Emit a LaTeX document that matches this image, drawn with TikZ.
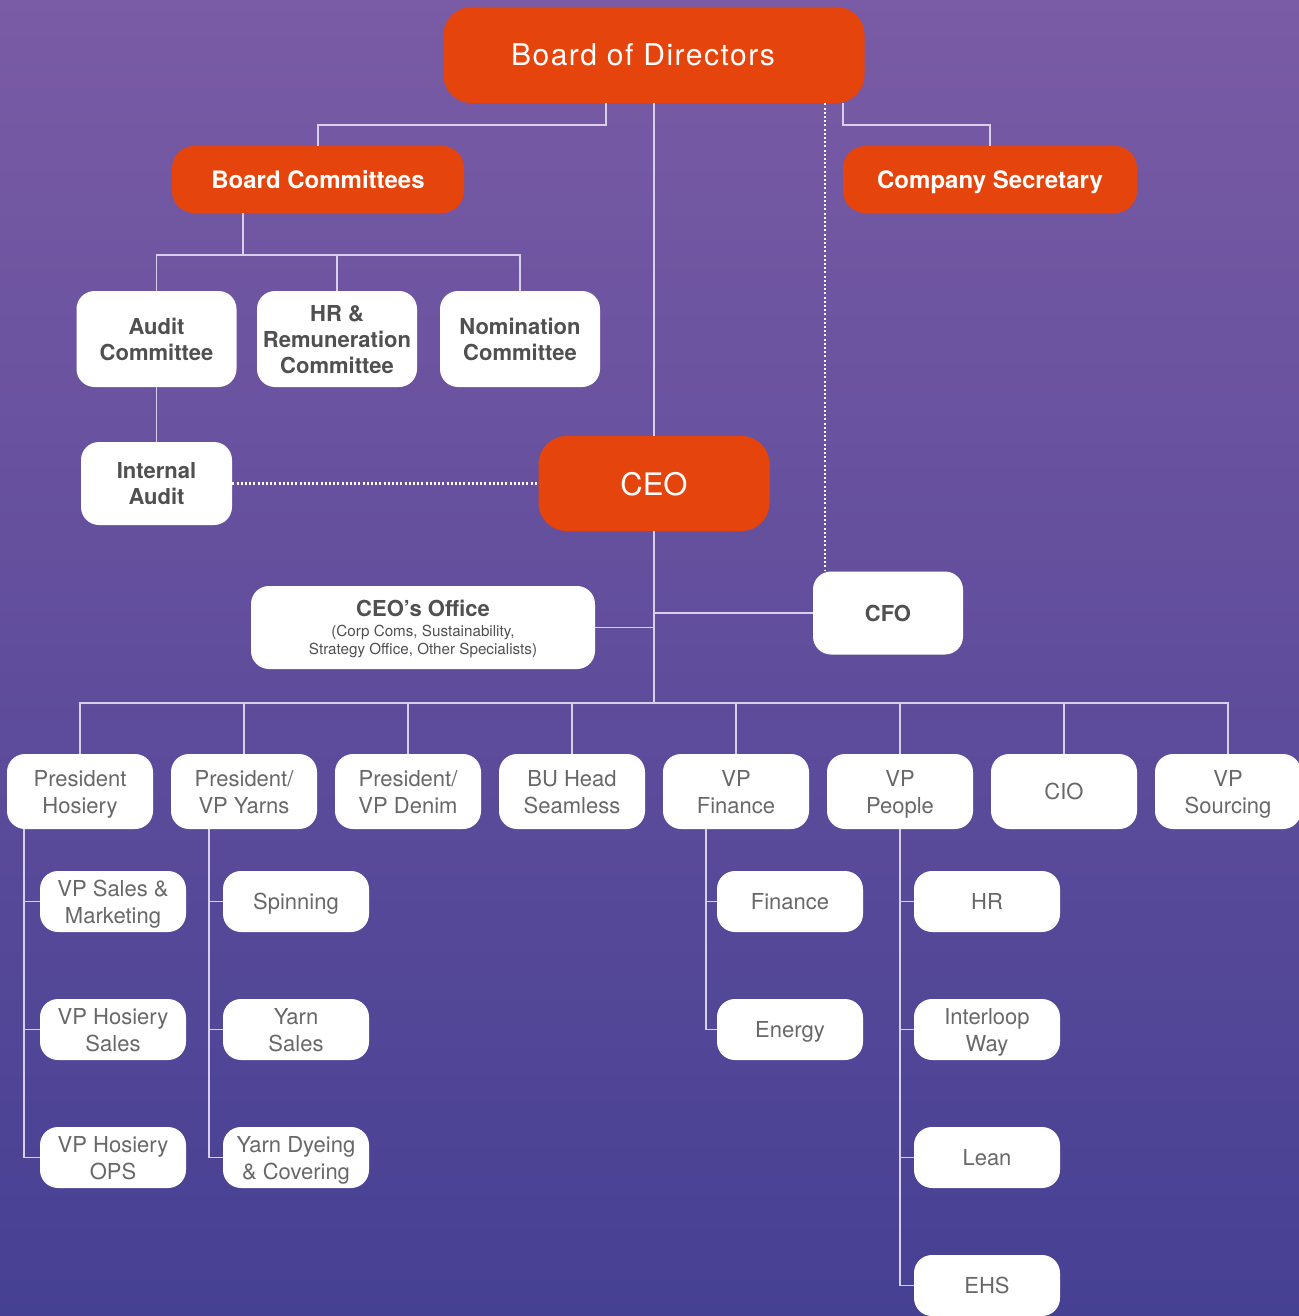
\documentclass[tikz,border=0pt]{standalone}
\usepackage{fontspec}
\setmainfont{TeX Gyre Heros}
\newfontfamily\titlefont[LetterSpace=5]{TeX Gyre Heros}
\usepackage{tikz}
\definecolor{BgTop}{RGB}{122,91,165}
\definecolor{BgBottom}{RGB}{70,64,147}
\definecolor{BrandOrange}{RGB}{229,69,12}
\definecolor{LineLilac}{RGB}{216,208,234}
\definecolor{TextGrey}{RGB}{80,80,80}
\definecolor{TextLight}{RGB}{104,104,104}
\tikzstyle{orangebox} = [rectangle, rounded corners=11pt, fill=BrandOrange, text=white, align=center, inner sep=0pt, text depth=0pt]
\tikzstyle{whitebox} = [rectangle, rounded corners=9pt, fill=white, text=TextGrey, align=center, inner sep=0pt, text depth=0pt]
\tikzstyle{boldbox} = [whitebox, font=\fontsize{11}{13}\selectfont\bfseries]
\tikzstyle{role} = [whitebox, text=TextLight, minimum width=73pt, minimum height=37.5pt, font=\fontsize{11}{13.5}\selectfont]
\tikzstyle{team} = [whitebox, text=TextLight, minimum width=73pt, minimum height=30.5pt, font=\fontsize{11}{13.5}\selectfont]
\tikzstyle{ligne} = [draw=LineLilac, line width=0.8pt]
\tikzstyle{pointille} = [draw=white, line width=1.1pt, dash pattern=on 1pt off 1.1pt]
\newcommand{\petit}{\mdseries\fontsize{7.6}{9}\selectfont}

\begin{document}
\begin{tikzpicture}[x=0.5pt, y=-0.5pt]

% Fond
\shade[top color=BgTop, bottom color=BgBottom] (0,0) rectangle (1299,1316);
\useasboundingbox (0,0) rectangle (1299,1316);

% Conseil
\node (board) [orangebox, rounded corners=14pt, minimum width=210.5pt, minimum height=48pt, font=\titlefont\fontsize{15}{18}\selectfont] at (654,55) {Board of Directors\hspace*{11pt}};
\node (committees) [orangebox, minimum width=146pt, minimum height=33.5pt, font=\fontsize{12}{14}\selectfont\bfseries] at (318,179.5) {Board Committees};
\node (secretary) [orangebox, minimum width=147pt, minimum height=33.5pt, font=\fontsize{12}{14}\selectfont\bfseries] at (990,179.5) {Company Secretary};

% Comités
\node (audit) [boldbox, minimum width=80pt, minimum height=48pt] at (156.5,339) {Audit\\Committee};
\node (hrcomm) [boldbox, minimum width=80pt, minimum height=48pt] at (337,339) {HR \&\\Remuneration\\Committee};
\node (nomination) [boldbox, minimum width=80pt, minimum height=48pt] at (520,339) {Nomination\\Committee};
\node (intaudit) [boldbox, minimum width=75.5pt, minimum height=41.5pt] at (156.5,483.5) {Internal\\Audit};

% Direction
\node (ceo) [orangebox, rounded corners=14pt, minimum width=115.5pt, minimum height=47.5pt, font=\fontsize{15.5}{18}\selectfont] at (654,483.5) {CEO};
\node (cfo) [boldbox, minimum width=75pt, minimum height=41.5pt] at (888,613) {CFO};
\node (ceooffice) [boldbox, minimum width=172pt, minimum height=41.5pt] at (423,627.5) {CEO’s Office\\[-3pt]{\petit (Corp Coms, Sustainability,}\\[-4pt]{\petit Strategy Office, Other Specialists)}};

% Rangée des responsables
\node (preshos) [role] at (80,791.5) {President\\Hosiery};
\node (presyarn) [role] at (244,791.5) {President/\\VP Yarns};
\node (presdenim) [role] at (408,791.5) {President/\\VP Denim};
\node (buhead) [role] at (572,791.5) {BU Head\\Seamless};
\node (vpfin) [role] at (736,791.5) {VP\\Finance};
\node (vppeople) [role] at (900,791.5) {VP\\People};
\node (cio) [role] at (1064,791.5) {CIO};
\node (vpsourcing) [role] at (1228,791.5) {VP\\Sourcing};

% Équipes
\node (vpsales) [team] at (113,901.5) {VP Sales \&\\Marketing};
\node (vphsales) [team] at (113,1029.5) {VP Hosiery\\Sales};
\node (vphops) [team] at (113,1157.5) {VP Hosiery\\OPS};
\node (spinning) [team] at (296,901.5) {Spinning};
\node (yarnsales) [team] at (296,1029.5) {Yarn\\Sales};
\node (yarndye) [team] at (296,1157.5) {Yarn Dyeing\\\& Covering};
\node (finance) [team] at (790,901.5) {Finance};
\node (energy) [team] at (790,1029.5) {Energy};
\node (hr) [team] at (987,901.5) {HR};
\node (interloop) [team] at (987,1029.5) {Interloop\\Way};
\node (lean) [team] at (987,1157.5) {Lean};
\node (ehs) [team] at (987,1285.5) {EHS};

% Points de jonction
\coordinate (j1) at (606,125);
\coordinate (j2) at (843,125);
\coordinate (j3) at (825,300);
\coordinate (j4) at (243,255);
\coordinate (j5) at (654,703);
\coordinate (colhos) at (24,0);
\coordinate (colyarn) at (209,0);
\coordinate (colfin) at (706,0);

% Liaisons
\draw [ligne] (board.south -| j1) -- (j1) -| (committees.north);
\draw [ligne] (board.south -| j2) -- (j2) -| (secretary.north);
\draw [ligne] (board) -- (ceo);
\draw [pointille] (board.south -| j3) -- (cfo.north -| j3);
\draw [ligne] (committees.south -| j4) -- (j4);
\draw [ligne] (audit.north) |- (j4) -| (nomination.north);
\draw [ligne] (hrcomm.north) -- (hrcomm.north |- j4);
\draw [ligne] (audit) -- (intaudit);
\draw [pointille] (intaudit) -- (ceo);
\draw [ligne] (ceo) -- (j5);
\draw [ligne] (cfo.west) -- (cfo.west -| j5);
\draw [ligne] (ceooffice.east) -- (ceooffice.east -| j5);
\draw [ligne] (preshos.north) |- (j5) -| (vpsourcing.north);
\foreach \n in {presyarn, presdenim, buhead, vpfin, vppeople, cio}
  \draw [ligne] (\n.north) -- (\n.north |- j5);
\foreach \n in {vpsales, vphsales, vphops}
  \draw [ligne] (preshos.south -| colhos) |- (\n.west);
\foreach \n in {spinning, yarnsales, yarndye}
  \draw [ligne] (presyarn.south -| colyarn) |- (\n.west);
\foreach \n in {finance, energy}
  \draw [ligne] (vpfin.south -| colfin) |- (\n.west);
\foreach \n in {hr, interloop, lean, ehs}
  \draw [ligne] (vppeople.south) |- (\n.west);

\end{tikzpicture}
\end{document}
